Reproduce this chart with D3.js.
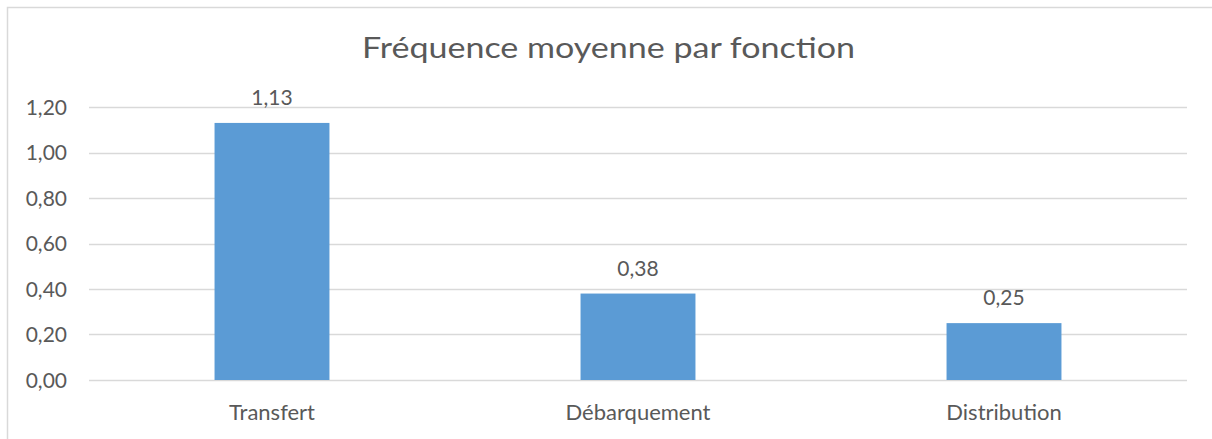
<!DOCTYPE html>
<html>
<head>
<meta charset="utf-8">
<script src="https://cdn.jsdelivr.net/npm/d3@7"></script>
<style>
  html, body { margin: 0; padding: 0; background: #ffffff; }
  svg { display: block; }
  text { font-family: Lato, "Open Sans", sans-serif; fill: #595959; }
</style>
</head>
<body>
<svg id="chart" width="1212" height="439"></svg>
<script>
// Mean frequency per function
const categories = ["Transfert", "Débarquement", "Distribution"];
const values = [1.13, 0.38, 0.25];
const yTicks = [0, 0.2, 0.4, 0.6, 0.8, 1.0, 1.2];
const title = "Fréquence moyenne par fonction";

const W = 1212, H = 439;
const plot = { left: 89, right: 1187, top: 107, bottom: 380 };

const svg = d3.select("#chart");
const frFmt = v => d3.format(".2f")(v).replace(".", ",");

// outer chart frame
svg.append("rect")
  .attr("x", 7.5).attr("y", 7.5)
  .attr("width", W + 20).attr("height", H + 20)
  .attr("fill", "#ffffff")
  .attr("stroke", "#d9d9d9").attr("stroke-width", 1.5);

const x = d3.scaleBand()
  .domain(categories)
  .range([plot.left, plot.right])
  .paddingInner(0.686)
  .paddingOuter(0.343);

const y = d3.scaleLinear()
  .domain([0, 1.2])
  .range([plot.bottom, plot.top]);

// horizontal gridlines
svg.append("g")
  .selectAll("line")
  .data(yTicks)
  .join("line")
  .attr("x1", plot.left).attr("x2", plot.right)
  .attr("y1", d => Math.round(y(d)) + 0.5)
  .attr("y2", d => Math.round(y(d)) + 0.5)
  .attr("stroke", "#d9d9d9").attr("stroke-width", 1.5);

// y axis labels
const yAxis = d3.axisLeft(y)
  .tickValues(yTicks)
  .tickFormat(frFmt)
  .tickSize(0)
  .tickPadding(0);
const gy = svg.append("g")
  .attr("transform", `translate(${plot.left - 22},0)`)
  .call(yAxis);
gy.select(".domain").remove();
gy.selectAll("text")
  .attr("font-size", 21)
  .attr("dy", "0.35em")
  .style("font-family", "Lato, 'Open Sans', sans-serif")
  .attr("fill", "#595959");

// x axis labels
const xAxis = d3.axisBottom(x).tickSize(0).tickPadding(0);
const gx = svg.append("g")
  .attr("transform", `translate(0,${plot.bottom})`)
  .call(xAxis);
gx.select(".domain").remove();
gx.selectAll("text")
  .attr("font-size", 22)
  .attr("dy", 0)
  .attr("y", 40)
  .style("font-family", "Lato, 'Open Sans', sans-serif")
  .attr("fill", "#595959");

// bars
svg.append("g")
  .selectAll("rect")
  .data(values)
  .join("rect")
  .attr("x", (d, i) => x(categories[i]))
  .attr("width", x.bandwidth())
  .attr("y", d => y(d))
  .attr("height", d => y(0) - y(d))
  .attr("fill", "#5b9bd5");

// value labels
svg.append("g")
  .selectAll("text")
  .data(values)
  .join("text")
  .attr("x", (d, i) => x(categories[i]) + x.bandwidth() / 2)
  .attr("y", d => y(d) - 18)
  .attr("text-anchor", "middle")
  .attr("font-size", 21)
  .text(frFmt);

// title
svg.append("text")
  .attr("x", 608.5)
  .attr("y", 58)
  .attr("text-anchor", "middle")
  .attr("font-size", 29)
  .attr("textLength", 493)
  .attr("lengthAdjust", "spacingAndGlyphs")
  .text(title);
</script>
</body>
</html>
